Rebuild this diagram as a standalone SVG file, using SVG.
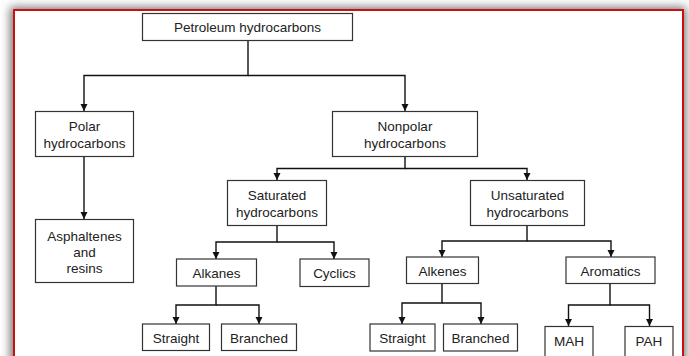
<svg xmlns="http://www.w3.org/2000/svg" width="689" height="356" viewBox="0 0 689 356">
<style>
.box{fill:#fff;stroke:#333;stroke-width:1.2}
.t{font-family:"Liberation Sans",Arial,sans-serif;font-size:13.5px;fill:#222;text-anchor:middle}
.c{fill:none;stroke:#111;stroke-width:1.4;marker-end:url(#ah)}
.l{fill:none;stroke:#111;stroke-width:1.4}
</style>
<defs>
<marker id="ah" markerUnits="userSpaceOnUse" markerWidth="8" markerHeight="8" refX="7" refY="4" orient="auto">
<path d="M0,0.5 L7,4 L0,7.5 z" fill="#111"/>
</marker>
<filter id="sh" x="-10%" y="-10%" width="120%" height="120%">
<feGaussianBlur stdDeviation="5"/>
</filter>
</defs>
<rect width="689" height="356" fill="#fff"/>
<rect x="10" y="7" width="676" height="400" fill="#777" filter="url(#sh)"/>
<rect x="14" y="10" width="669" height="400" fill="#fff" stroke="#cc1010" stroke-width="2"/>

<g id="connectors">
<path class="c" d="M248,40 V75.5 H84 V111"/>
<path class="c" d="M248,75.5 H405 V111"/>
<path class="c" d="M84,157 V219"/>
<path class="c" d="M405,156 V168.5 H277 V180"/>
<path class="c" d="M405,168.5 H527 V180"/>
<path class="c" d="M277,226 V242 H216 V259"/>
<path class="c" d="M277,242 H334 V259"/>
<path class="c" d="M216,286 V305 H176 V324"/>
<path class="c" d="M216,305 H259 V324"/>
<path class="c" d="M527,226 V241 H442 V257"/>
<path class="c" d="M527,241 H611 V257"/>
<path class="c" d="M442,284 V303 H402 V324"/>
<path class="c" d="M442,303 H481 V324"/>
<path class="c" d="M610,284 V305 H568.5 V326"/>
<path class="c" d="M610,305 H649.5 V326"/>
</g>

<g id="petroleum"><rect class="box" x="142.5" y="13.5" width="210" height="27"/><text class="t" x="247.5" y="31.5">Petroleum hydrocarbons</text></g>
<g id="polar"><rect class="box" x="35.5" y="111.5" width="98" height="45"/><text class="t" x="84.5" y="130.5">Polar</text><text class="t" x="84.5" y="147.5">hydrocarbons</text></g>
<g id="nonpolar"><rect class="box" x="332.5" y="111.5" width="145" height="45"/><text class="t" x="405" y="130.5">Nonpolar</text><text class="t" x="405" y="147.5">hydrocarbons</text></g>
<g id="asphaltenes"><rect class="box" x="35.5" y="219.5" width="98" height="63"/><text class="t" x="84.5" y="240.5">Asphaltenes</text><text class="t" x="84.5" y="256.5">and</text><text class="t" x="84.5" y="272.5">resins</text></g>
<g id="saturated"><rect class="box" x="227.5" y="180.5" width="99" height="45"/><text class="t" x="277" y="200">Saturated</text><text class="t" x="277" y="216.5">hydrocarbons</text></g>
<g id="unsaturated"><rect class="box" x="470.5" y="180.5" width="114" height="45"/><text class="t" x="527.5" y="200">Unsaturated</text><text class="t" x="527.5" y="216.5">hydrocarbons</text></g>
<g id="alkanes"><rect class="box" x="176.5" y="259" width="80" height="27"/><text class="t" x="216.5" y="278">Alkanes</text></g>
<g id="cyclics"><rect class="box" x="300" y="259" width="69" height="27.5"/><text class="t" x="334.5" y="278">Cyclics</text></g>
<g id="straight1"><rect class="box" x="142.5" y="324" width="67" height="26.5"/><text class="t" x="176" y="342.5">Straight</text></g>
<g id="branched1"><rect class="box" x="221.5" y="324" width="75" height="26.5"/><text class="t" x="259" y="342.5">Branched</text></g>
<g id="alkenes"><rect class="box" x="406.5" y="257" width="72" height="26.5"/><text class="t" x="442.5" y="275.5">Alkenes</text></g>
<g id="aromatics"><rect class="box" x="566" y="257" width="89" height="26.5"/><text class="t" x="610.5" y="275.5">Aromatics</text></g>
<g id="straight2"><rect class="box" x="370" y="324" width="65" height="27"/><text class="t" x="402.5" y="343">Straight</text></g>
<g id="branched2"><rect class="box" x="443.5" y="324" width="74" height="27"/><text class="t" x="480.5" y="343">Branched</text></g>
<g id="mah"><rect class="box" x="545" y="326.5" width="48" height="40"/><text class="t" x="569" y="345.5">MAH</text></g>
<g id="pah"><rect class="box" x="625" y="326.5" width="48" height="40"/><text class="t" x="649" y="345.5">PAH</text></g>
</svg>
